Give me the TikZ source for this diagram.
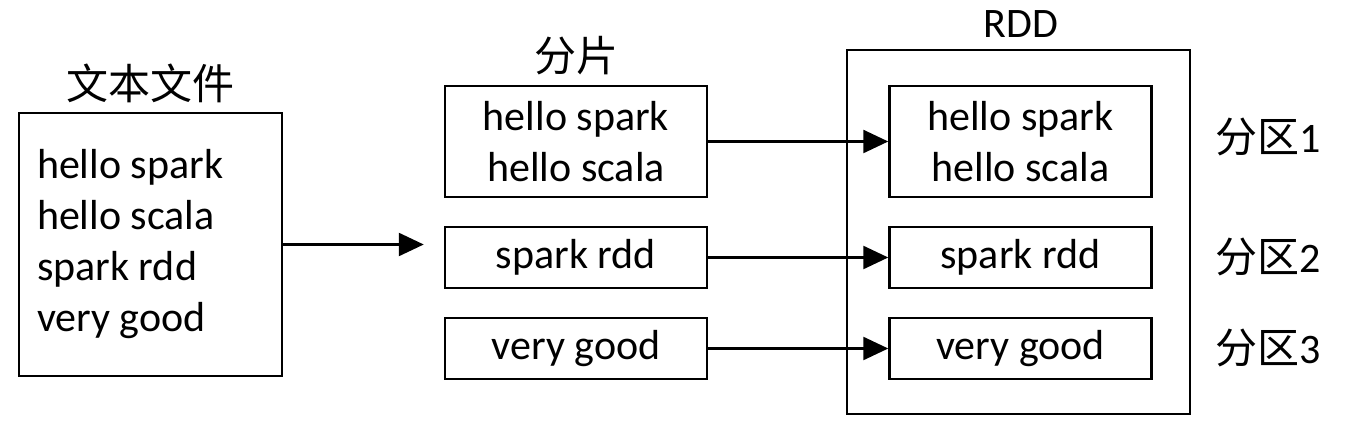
\documentclass[tikz,border=0pt]{standalone}
\usepackage{fontspec}
\setmainfont{Carlito}
\newfontfamily\cjk{Noto Sans CJK SC}
\usetikzlibrary{arrows.meta}

\begin{document}
\begin{tikzpicture}[x=1pt, y=-1pt, line width=2.5pt,
        font=\fontsize{42}{51}\selectfont,
        box/.style = {draw, inner sep=0pt, minimum width=262pt, align=center},
        title/.style = {inner sep=0pt, anchor=base},
        arr/.style = {-{Triangle[length=25pt, width=23pt]}}]
        \useasboundingbox (0, 0) rectangle (1351, 435);
        % text file
        \node[draw, inner xsep=18pt, text width=227pt, minimum height=263pt, align=flush left] at (150.5, 244.5) (file) {hello spark\\hello scala\\spark rdd\\very good};
        \node[title] at (150.5, 100) (filet) {\cjk 文本文件};
        % splits
        \node[box, minimum height=111pt] at (576, 141.5) (seg1) {hello spark\\hello scala};
        \node[box, minimum height=61pt] at (576, 257.5) (seg2) {spark rdd};
        \node[box, minimum height=61pt] at (576, 348.5) (seg3) {very good};
        \node[title] at (576, 72) (segt) {\cjk 分片};
        % rdd
        \node[draw, minimum width=343pt, minimum height=364pt] at (1018.5, 232) (rdd) {};
        \node[title] at (1021, 38) (rddt) {RDD};
        \node[box, minimum height=111pt] at (1020.5, 141.5) (part1) {hello spark\\hello scala};
        \node[box, minimum height=61pt] at (1020.5, 257.5) (part2) {spark rdd};
        \node[box, minimum height=61pt] at (1020.5, 348.5) (part3) {very good};
        \node[title, anchor=west] at (1214, 137) (p1) {{\cjk 分区}1};
        \node[title, anchor=west] at (1214, 257) (p2) {{\cjk 分区}2};
        \node[title, anchor=west] at (1214, 348) (p3) {{\cjk 分区}3};
        % arrows
        \draw[arr, shorten >=20pt] (file.east) -- (file.east -| seg2.west);
        \draw[arr] (seg1) -- (part1);
        \draw[arr] (seg2) -- (part2);
        \draw[arr] (seg3) -- (part3);
        \end{tikzpicture}
\end{document}
